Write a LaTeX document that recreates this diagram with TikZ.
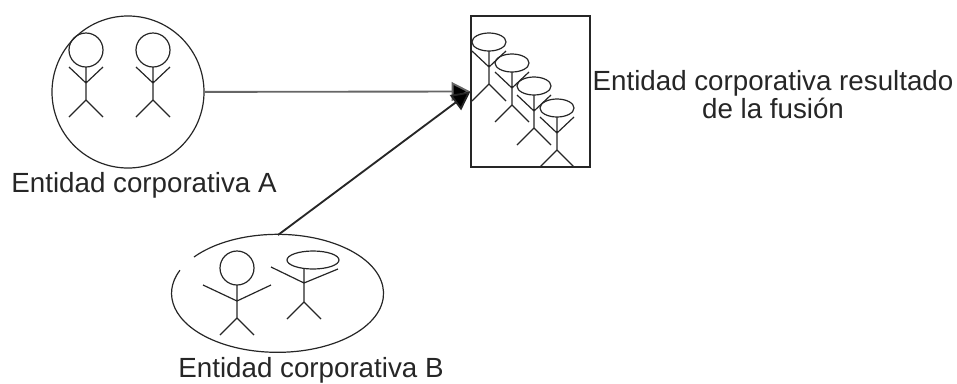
\documentclass[tikz,border=0pt]{standalone}
\usepackage{fontspec}
\setmainfont{Liberation Sans}
\usepackage{tikz}
\usetikzlibrary{arrows.meta}
\tikzset{
  trazo/.style={line width=0.9pt, black!85},
  flecha/.style={line width=1.4pt, black!85, -{Triangle[length=14pt,width=14pt,fill=black]}},
  etiqueta/.style={font=\fontsize{20.8pt}{21pt}\selectfont, text=black!85, align=center, inner sep=0pt}
}
\newcommand{\cuerpo}[1]{\draw[trazo] (0,0) -- (0,33) (-#1,0) -- (0,16) -- (#1,0) (-17,50) -- (0,33) -- (17,50);}
\newcommand{\cabezaredonda}{\draw[trazo] (0,-17) circle (17);}
\newcommand{\cabezaplana}{\draw[trazo] (0,-9) ellipse [x radius=17, y radius=9];}
\begin{document}
\begin{tikzpicture}[x=0.75pt,y=-0.75pt]
\useasboundingbox (0,0) rectangle (957,383);

% ENTIDAD A
\node [draw, trazo, circle, minimum size=114pt, inner sep=0pt] (entidadA) at (128,92) {};
\begin{scope}[shift={(86,67)}] \cabezaredonda \cuerpo{17} \end{scope}
\begin{scope}[shift={(153,67)}] \cabezaredonda \cuerpo{17} \end{scope}
\node [etiqueta, anchor=base] (textoA) at (144,192) {Entidad corporativa A};

% ENTIDAD B
\draw[trazo] (194,257) arc [start angle=-142, end angle=203, x radius=106, y radius=59];
\coordinate (entidadB) at (278,235);
\begin{scope}[shift={(237,285)}] \cabezaredonda \cuerpo{34} \end{scope}
\begin{scope}[shift={(304,269)}]
\draw[trazo] (9,-9) ellipse [x radius=26, y radius=9];
\draw[trazo] (0,0) -- (0,33) (-33,-2) -- (0,14) -- (34,0) (-17,50) -- (0,33) -- (17,50);
\end{scope}
\node [etiqueta, anchor=base] (textoB) at (311,377) {Entidad corporativa B};

% FUSION
\node [draw, trazo, line width=1.2pt, minimum width=89pt, minimum height=113pt, inner sep=0pt] (fusion) at (530.5,91.5) {};
\begin{scope}[shift={(489,51)}] \cabezaplana \cuerpo{17} \end{scope}
\begin{scope}[shift={(512,72)}] \cabezaplana \cuerpo{17} \end{scope}
\begin{scope}[shift={(534,95)}] \cabezaplana \cuerpo{17} \end{scope}
\begin{scope}[shift={(557,117)}] \cabezaplana \cuerpo{17} \end{scope}
\node [etiqueta] (textoF) at (773,95) {Entidad corporativa resultado\\de la fusión};

% FLECHAS
\draw[flecha, black!60] (entidadA) -- (fusion.west);
\draw[flecha] (entidadB) -- (fusion.west);
\end{tikzpicture}
\end{document}
